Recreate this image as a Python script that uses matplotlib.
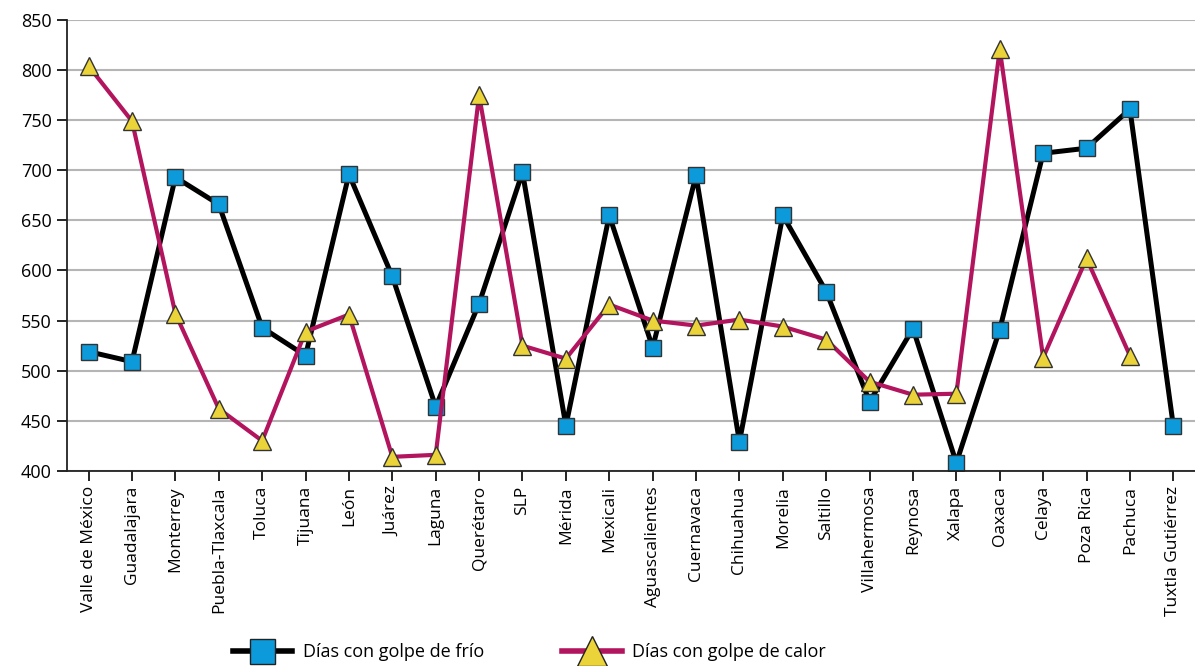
import matplotlib
matplotlib.use("Agg")
import matplotlib.pyplot as plt
import numpy as np
from matplotlib.lines import Line2D

categories = ["Valle de México", "Guadalajara", "Monterrey", "Puebla-Tlaxcala", "Toluca",
              "Tijuana", "León", "Juárez", "Laguna", "Querétaro", "SLP", "Mérida",
              "Mexicali", "Aguascalientes", "Cuernavaca", "Chihuahua", "Morelia",
              "Saltillo", "Villahermosa", "Reynosa", "Xalapa", "Oaxaca", "Celaya",
              "Poza Rica", "Pachuca", "Tuxtla Gutiérrez"]

frio = [519, 509, 693, 666, 543, 515, 696, 594, 464, 567, 698, 445, 655, 523,
        695, 429, 655, 579, 469, 542, 408, 541, 717, 722, 761, 445]

calor = [804, 749, 557, 462, 430, 539, 556, 414, 416, 775, 525, 512, 566, 550,
         545, 551, 544, 531, 489, 476, 477, 821, 513, 612, 515, np.nan]

yticks = [400, 450, 500, 550, 600, 650, 700, 750, 800, 850]

plt.rcParams['font.family'] = ['Open Sans', 'DejaVu Sans']

fig = plt.figure(figsize=(11.95, 6.66), dpi=100)
ax = fig.add_axes([0.056, 0.293, 0.944, 0.677])

x = np.arange(len(categories))
black_col = "#000000"
mag_col = "#B3145E"
blue_col = "#0C9ADA"
yel_col = "#EBD33A"

ax.plot(x, frio, color=black_col, lw=3.6, marker='s', markersize=11,
        markerfacecolor=blue_col, markeredgecolor="#333333", markeredgewidth=1.0,
        zorder=3, solid_joinstyle='round')
ax.plot(x, calor, color=mag_col, lw=3.0, marker='^', markersize=13,
        markerfacecolor=yel_col, markeredgecolor="#333333", markeredgewidth=1.0,
        zorder=4, solid_joinstyle='round')

ax.set_xlim(-0.5, len(categories) - 0.5)
ax.set_ylim(400, 850)
ax.set_yticks(yticks)
ax.set_xticks(x)
ax.set_xticklabels(categories, rotation=90, fontsize=12.5)
ax.tick_params(axis='y', labelsize=13, length=7, width=1.2, pad=4, direction='out')
ax.tick_params(axis='x', length=7, width=1.2, pad=4, direction='out')
ax.yaxis.grid(True, color="#B5B5B5", lw=1.5)
ax.set_axisbelow(True)
for s in ['top', 'right']:
    ax.spines[s].set_visible(False)
for s in ['left', 'bottom']:
    ax.spines[s].set_linewidth(1.3)
    ax.spines[s].set_color("#222222")
ax.spines['bottom'].set_zorder(5)

h1 = Line2D([], [], color=black_col, lw=4, marker='s', markersize=18,
            markerfacecolor=blue_col, markeredgecolor="#222222", markeredgewidth=1.0)
h2 = Line2D([], [], color=mag_col, lw=4, marker='^', markersize=21,
            markerfacecolor=yel_col, markeredgecolor="#222222", markeredgewidth=1.0)
fig.legend([h1, h2], ["Días con golpe de frío", "Días con golpe de calor"],
           loc='center', bbox_to_anchor=(0.443, 0.021), ncol=2, frameon=False,
           fontsize=13, handlelength=3.3, columnspacing=4.3, handletextpad=0.6)

fig.savefig("out.png", dpi=100)
